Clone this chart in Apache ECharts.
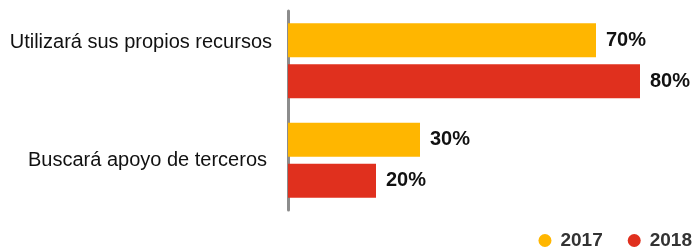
<!DOCTYPE html>
<html>
<head>
<meta charset="utf-8">
<script src="https://cdn.jsdelivr.net/npm/echarts@6/dist/echarts.min.js"></script>
<style>html,body{margin:0;padding:0;background:#fff}#c{width:698px;height:248px}</style>
</head>
<body>
<div id="c"></div>
<script>
const categories = ['Utilizará sus propios recursos', 'Buscará apoyo de terceros'];
const seriesNames = ['2017', '2018'];
const values2017 = [70, 30];
const values2018 = [80, 20];

const font = '"Liberation Sans", Arial, Helvetica, sans-serif';
const chart = echarts.init(document.getElementById('c'), null, {renderer: 'canvas'});
const labelCfg = {
  show: true, position: 'right', distance: 10,
  formatter: p => p.value + '%',
  fontFamily: font, fontSize: 20, fontWeight: 'bold', color: '#111'
};
chart.setOption({
  animation: false,
  textStyle: {fontFamily: font},
  grid: {left: 288, right: 58, top: 11, bottom: 38, containLabel: false},
  legend: {
    right: 1, bottom: -7, itemGap: 25, itemWidth: 13, itemHeight: 13,
    icon: 'circle',
    textStyle: {fontFamily: font, fontSize: 19, fontWeight: 'bold', color: '#333', padding: [0, 0, 0, 4]},
    data: seriesNames
  },
  xAxis: {type: 'value', min: 0, max: 80, show: false},
  yAxis: {
    type: 'category', inverse: true, offset: 2,
    data: categories,
    axisLine: {show: true, lineStyle: {color: '#8c8c8c', width: 3}},
    axisTick: {show: false},
    axisLabel: {
      margin: 14,
      formatter: (v, i) => i === 0 ? '{t|' + v + '}\n{s| }' : '{t|' + v + '}{r| }',
      rich: {
        t: {fontFamily: font, fontSize: 20, color: '#111', lineHeight: 22},
        s: {fontSize: 4, lineHeight: 36},
        r: {fontSize: 4, width: 5}
      }
    },
    splitLine: {show: false}
  },
  series: [
    {name: seriesNames[0], type: 'bar', data: values2017, barWidth: 34, barGap: '20%',
     itemStyle: {color: '#FFB600'}, label: labelCfg},
    {name: seriesNames[1], type: 'bar', data: values2018, barWidth: 34, barGap: '20%',
     itemStyle: {color: '#E0301E'}, label: labelCfg}
  ]
});
</script>
</body>
</html>
